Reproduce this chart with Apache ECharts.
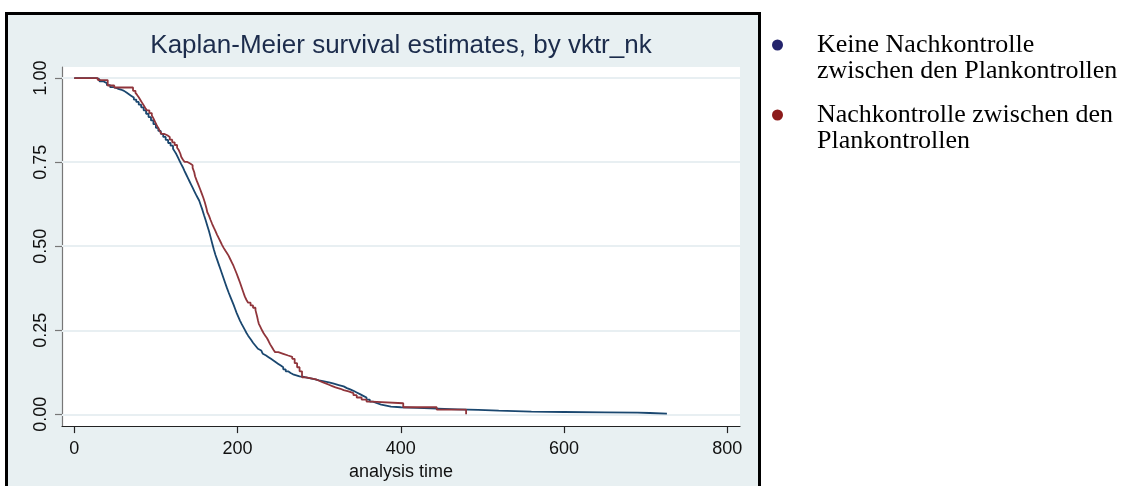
<!DOCTYPE html>
<html>
<head>
<meta charset="utf-8">
<title>Kaplan-Meier survival estimates, by vktr_nk</title>
<script src="https://cdn.jsdelivr.net/npm/echarts@6/dist/echarts.min.js"></script>
<style>
  html, body { margin: 0; padding: 0; background: #ffffff; }
  #chart { width: 1133px; height: 486px; }
</style>
</head>
<body>
<div id="chart"></div>
<script>
// Group labels (legend) and axis ticks
const groupNames = [
  'Keine Nachkontrolle zwischen den Plankontrollen',
  'Nachkontrolle zwischen den Plankontrollen'
];
const legendLines = [
  ['Keine Nachkontrolle', 'zwischen den Plankontrollen'],
  ['Nachkontrolle zwischen den', 'Plankontrollen']
];
const timeTicks = [0, 200, 400, 600, 800];
const survTicks = [0, 0.25, 0.5, 0.75, 1];
const survTickLabels = ['0.00', '0.25', '0.50', '0.75', '1.00'];

// Kaplan-Meier step points: time at which the estimate drops, and the new level
const keineTime = [0, 27, 31, 36, 40, 44, 48, 53, 57, 61, 64, 67, 70, 73, 76, 79, 82, 85, 88, 91,
  94, 97, 100, 103, 106, 109, 112, 115, 118, 121, 123, 125, 127, 129, 131, 133, 135, 137, 139, 141,
  143, 145, 147, 149, 151, 153, 155, 157, 159, 161, 163, 165, 167, 169, 171, 173, 175, 177, 179, 181,
  183, 185, 187, 189, 191, 193, 195, 197, 199, 201, 203, 205, 207, 209, 211, 213, 215, 217, 219, 221,
  223, 225, 227, 229, 231, 233, 235, 238, 241, 244, 247, 250, 253, 256, 259, 262, 265, 268, 272, 276,
  282, 288, 294, 300, 306, 312, 318, 324, 330, 334, 338, 342, 346, 350, 354, 358, 362, 366, 371, 376,
  382, 388, 400, 420, 445, 470, 495, 520, 560, 600, 650, 690, 705, 726];
const keineSurv = [1, 0.996, 0.99, 0.985, 0.979, 0.973, 0.969, 0.966, 0.962, 0.957, 0.952, 0.947, 0.942, 0.936, 0.929, 0.921, 0.913, 0.904, 0.894, 0.884,
  0.874, 0.863, 0.852, 0.843, 0.834, 0.825, 0.816, 0.807, 0.799, 0.79, 0.782, 0.774, 0.764, 0.754, 0.744, 0.735, 0.724, 0.714, 0.704, 0.694,
  0.684, 0.674, 0.664, 0.654, 0.645, 0.636, 0.622, 0.608, 0.592, 0.577, 0.561, 0.545, 0.527, 0.508, 0.49, 0.474, 0.46, 0.446, 0.432, 0.418,
  0.404, 0.39, 0.376, 0.363, 0.351, 0.339, 0.327, 0.314, 0.301, 0.29, 0.279, 0.269, 0.26, 0.251, 0.242, 0.234, 0.227, 0.22, 0.213, 0.207,
  0.201, 0.195, 0.19, 0.185, 0.18, 0.175, 0.17, 0.165, 0.16, 0.155, 0.15, 0.145, 0.14, 0.134, 0.128, 0.123, 0.119, 0.116, 0.113, 0.111,
  0.108, 0.105, 0.101, 0.098, 0.095, 0.091, 0.087, 0.083, 0.078, 0.074, 0.07, 0.065, 0.06, 0.055, 0.05, 0.044, 0.038, 0.033, 0.029, 0.026,
  0.023, 0.021, 0.019, 0.017, 0.015, 0.013, 0.011, 0.008, 0.007, 0.006, 0.005, 0.004, 0.002, 0];

const nachTime = [0, 29, 41, 49, 72, 75, 77, 79, 81, 83, 85, 87, 89, 92, 95, 97, 99, 101, 103, 105,
  107, 110, 114, 117, 120, 123, 126, 128, 130, 131, 133, 135, 138, 142, 145, 147, 148, 150, 152, 154,
  156, 158, 160, 162, 163, 165, 167, 169, 171, 173, 175, 177, 179, 181, 183, 185, 187, 189, 191, 193,
  195, 197, 199, 201, 203, 205, 207, 209, 211, 213, 216, 219, 222, 224, 225, 226, 228, 230, 232, 234,
  236, 238, 240, 242, 244, 246, 250, 256, 262, 267, 270, 273, 276, 279, 284, 290, 296, 300, 304, 308,
  312, 316, 320, 326, 330, 336, 342, 346, 352, 358, 364, 403, 444, 480];
const nachSurv = [1, 0.994, 0.978, 0.972, 0.962, 0.956, 0.95, 0.943, 0.935, 0.927, 0.919, 0.911, 0.904, 0.896, 0.889, 0.88, 0.87, 0.86, 0.851, 0.842,
  0.834, 0.83, 0.825, 0.817, 0.809, 0.801, 0.793, 0.786, 0.775, 0.766, 0.758, 0.751, 0.746, 0.741, 0.733, 0.72, 0.708, 0.695, 0.683, 0.671,
  0.658, 0.645, 0.63, 0.612, 0.601, 0.591, 0.578, 0.566, 0.555, 0.545, 0.534, 0.524, 0.514, 0.504, 0.495, 0.487, 0.48, 0.472, 0.462, 0.452,
  0.442, 0.43, 0.418, 0.405, 0.392, 0.378, 0.364, 0.35, 0.34, 0.332, 0.324, 0.317, 0.31, 0.291, 0.28, 0.27, 0.26, 0.25, 0.241, 0.234,
  0.227, 0.218, 0.208, 0.2, 0.192, 0.185, 0.18, 0.175, 0.171, 0.165, 0.152, 0.14, 0.128, 0.11, 0.107, 0.104, 0.1, 0.096, 0.092, 0.088,
  0.084, 0.08, 0.076, 0.072, 0.068, 0.063, 0.057, 0.05, 0.044, 0.038, 0.033, 0.021, 0.014, 0];

const lineColors = ['#1a476f', '#90353b'];
const dotColors = ['#24246c', '#8c1b1b'];

const sans = "'Liberation Sans', Arial, Helvetica, sans-serif";
const serif = "'Liberation Serif', 'Times New Roman', serif";
const legendLineH = 26;
const legendDotY = [45, 115];

const chart = echarts.init(document.getElementById('chart'), null, { renderer: 'canvas' });

chart.setOption({
  animation: false,
  backgroundColor: '#ffffff',
  title: {
    text: 'Kaplan-Meier survival estimates, by vktr_nk',
    left: 401,
    top: 33,
    textAlign: 'center',
    padding: 0,
    textStyle: { fontFamily: sans, fontSize: 26, fontWeight: 'normal', color: '#1c2c4c' }
  },
  graphic: [{
    type: 'rect',
    z: -100,
    silent: true,
    shape: { x: 6.5, y: 13.5, width: 753, height: 500 },
    style: { fill: '#e8f0f2', stroke: '#000000', lineWidth: 3 }
  }],
  // one legend block per group; a leading blank line keeps the dot level with the first text line
  legend: [0, 1].map(i => ({
    data: [{ name: groupNames[i], icon: 'circle', itemStyle: { color: dotColors[i] } }],
    orient: 'vertical',
    left: 772,
    top: legendDotY[i] - 1.5 * legendLineH,
    padding: 0,
    itemWidth: 11,
    itemHeight: 11,
    selectedMode: false,
    formatter: () => '\n' + legendLines[i].join('\n'),
    textStyle: {
      fontFamily: serif,
      fontSize: 26,
      lineHeight: legendLineH,
      color: '#000000',
      padding: [0, 0, 0, 29]
    }
  })),
  grid: {
    left: 62, top: 67, width: 678, height: 370,
    show: true, backgroundColor: '#ffffff', borderWidth: 0
  },
  xAxis: {
    type: 'value',
    min: -15,
    max: 815.5,
    name: 'analysis time',
    nameLocation: 'middle',
    nameGap: 33,
    nameTextStyle: { fontFamily: sans, fontSize: 18, color: '#111111' },
    axisLine: { show: true, onZero: false, lineStyle: { color: '#222222', width: 1.2 } },
    axisTick: { show: true, length: 7, customValues: timeTicks, lineStyle: { color: '#222222', width: 1.2 } },
    axisLabel: { customValues: timeTicks, margin: 14, fontFamily: sans, fontSize: 18, color: '#111111' },
    splitLine: { show: false }
  },
  yAxis: {
    type: 'value',
    min: -0.035,
    max: 1.033,
    axisLine: { show: true, onZero: false, lineStyle: { color: '#777777', width: 1.2 } },
    axisTick: { show: true, length: 7, customValues: survTicks, lineStyle: { color: '#777777', width: 1.2 } },
    axisLabel: {
      customValues: survTicks,
      rotate: 90,
      margin: 12,
      fontFamily: sans, fontSize: 18, color: '#111111',
      formatter: v => survTickLabels[survTicks.indexOf(v)] ?? ''
    },
    splitLine: { show: false }
  },
  series: [
    {
      name: groupNames[0],
      type: 'line',
      step: 'end',
      showSymbol: false,
      data: keineTime.map((t, i) => [t, keineSurv[i]]),
      lineStyle: { color: lineColors[0], width: 1.8 },
      itemStyle: { color: dotColors[0] },
      z: 3,
      markLine: {
        silent: true,
        z: 1,
        symbol: 'none',
        label: { show: false },
        lineStyle: { color: '#e8eff2', width: 2, type: 'solid' },
        data: survTicks.map(v => ({ yAxis: v }))
      }
    },
    {
      name: groupNames[1],
      type: 'line',
      step: 'end',
      showSymbol: false,
      data: nachTime.map((t, i) => [t, nachSurv[i]]),
      lineStyle: { color: lineColors[1], width: 1.8 },
      itemStyle: { color: dotColors[1] },
      z: 4
    }
  ]
});
</script>
</body>
</html>
